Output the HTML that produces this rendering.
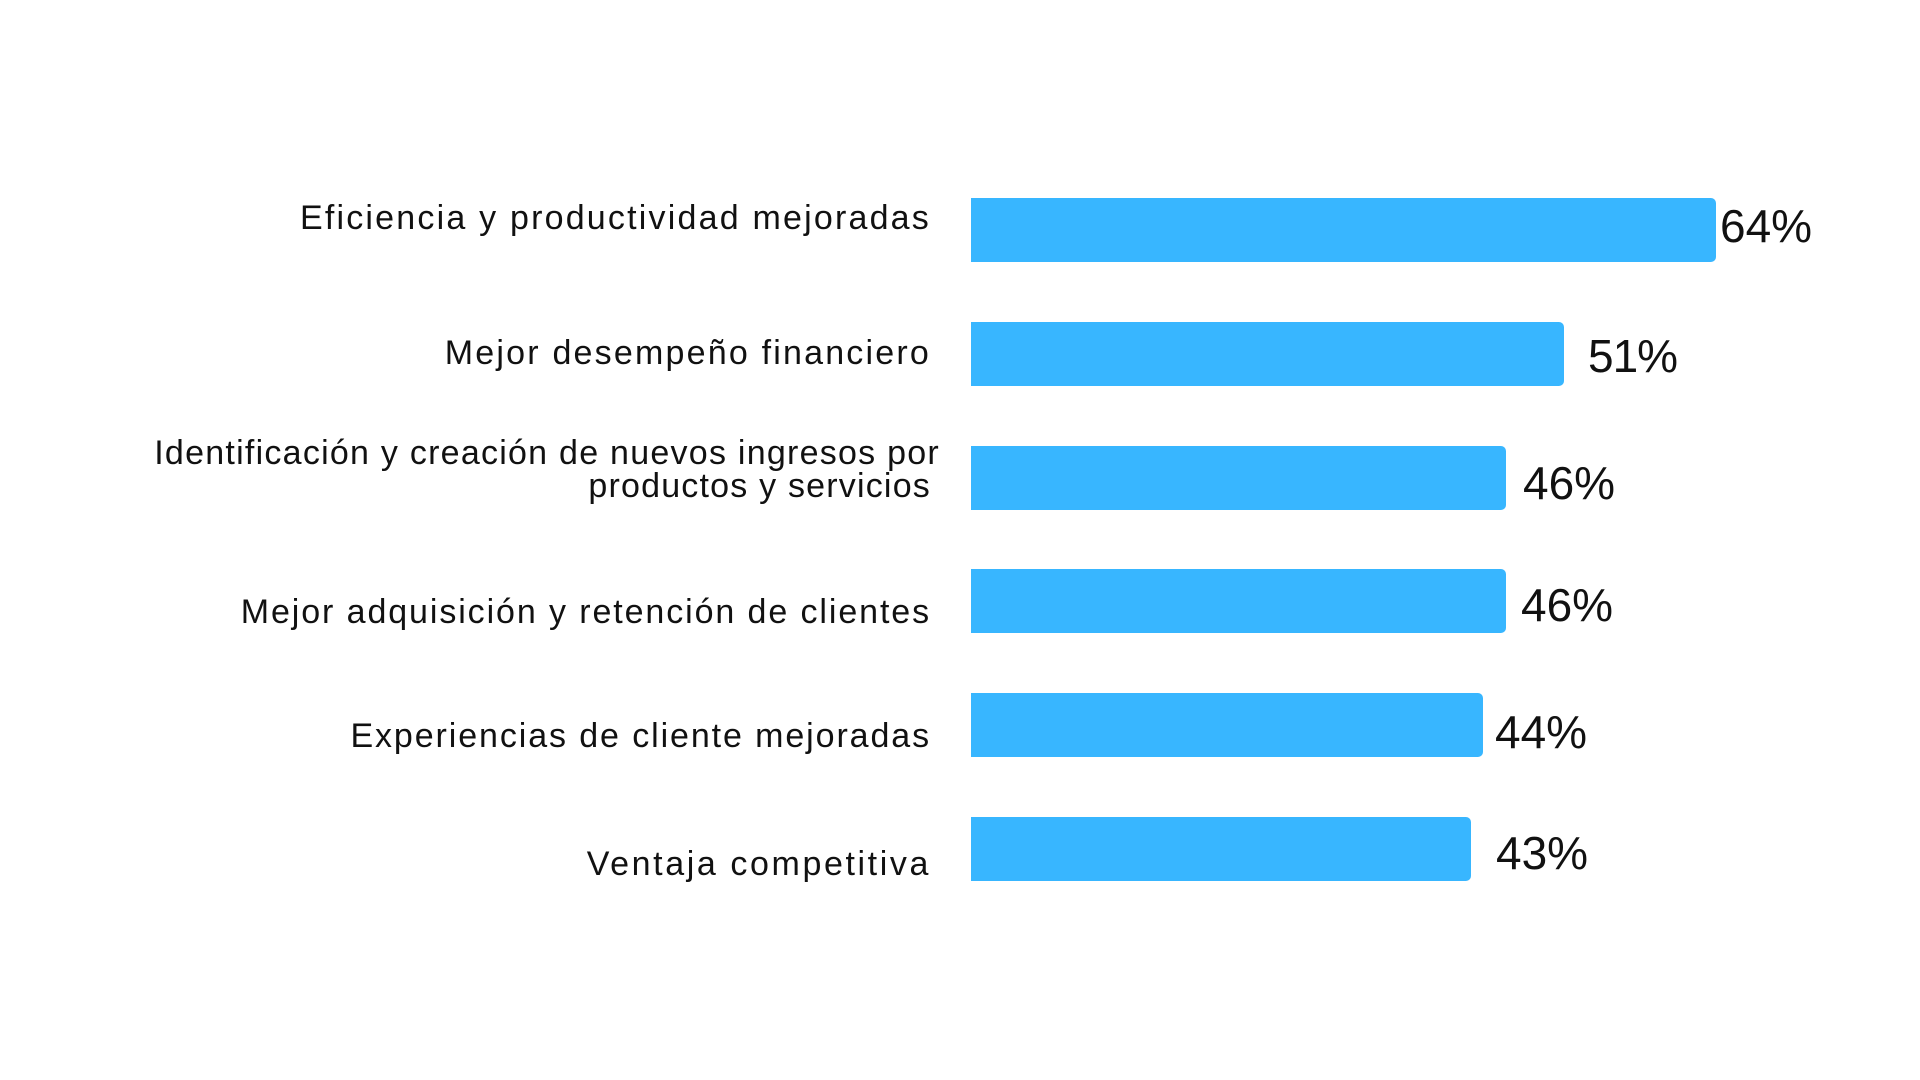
<!DOCTYPE html>
<html><head><meta charset="utf-8"><style>
body{margin:0;width:1920px;height:1080px;background:#fff;position:relative;overflow:hidden;font-family:"Liberation Sans",sans-serif;color:#111}
.bar{position:absolute;left:971px;height:64px;background:#38B6FF;border-radius:0 5px 5px 0}
.lab{position:absolute;right:989px;font-size:34px;letter-spacing:1.05px;text-align:right;white-space:nowrap;line-height:34px;transform:translateY(-50%)}
.val{position:absolute;font-size:46px;line-height:46px;transform:translateY(-50%)}
</style></head><body>
<div class="bar" style="top:198px;width:745px"></div>
<div class="bar" style="top:322px;width:593px"></div>
<div class="bar" style="top:446px;width:535px"></div>
<div class="bar" style="top:569px;width:535px"></div>
<div class="bar" style="top:693px;width:512px"></div>
<div class="bar" style="top:817px;width:500px"></div>

<div class="lab" style="top:218px;letter-spacing:2.2px">Eficiencia y productividad mejoradas</div>
<div class="lab" style="top:353px;letter-spacing:2.2px">Mejor desempeño financiero</div>
<div class="lab" style="top:453px;right:980px;letter-spacing:1.25px">Identificación y creación de nuevos ingresos por</div>
<div class="lab" style="top:486px;letter-spacing:1.2px">productos y servicios</div>
<div class="lab" style="top:612px;letter-spacing:1.9px">Mejor adquisición y retención de clientes</div>
<div class="lab" style="top:736px;letter-spacing:1.9px">Experiencias de cliente mejoradas</div>
<div class="lab" style="top:864px;letter-spacing:2.6px">Ventaja competitiva</div>

<div class="val" style="left:1720px;top:226px">64%</div>
<div class="val" style="left:1588px;top:356px;letter-spacing:-1px">51%</div>
<div class="val" style="left:1523px;top:483px">46%</div>
<div class="val" style="left:1521px;top:605px">46%</div>
<div class="val" style="left:1495px;top:732px">44%</div>
<div class="val" style="left:1496px;top:853px">43%</div>
</body></html>
